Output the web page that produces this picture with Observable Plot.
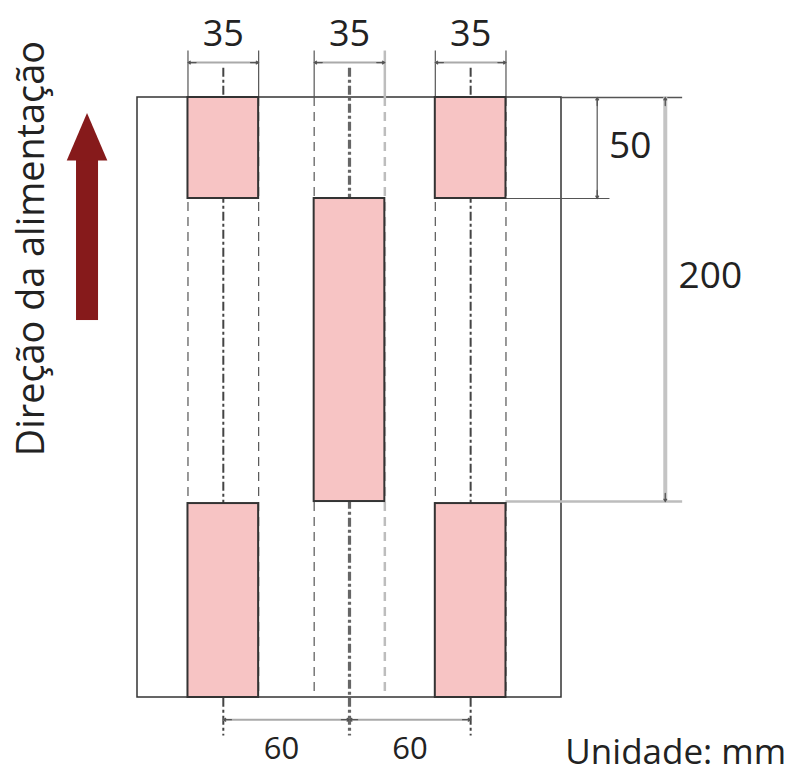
<!DOCTYPE html>
<html>
<head>
<meta charset="utf-8">
<script src="https://cdn.jsdelivr.net/npm/d3@7"></script>
<script src="https://cdn.jsdelivr.net/npm/@observablehq/plot@0.6"></script>
<style>
  html, body { margin: 0; padding: 0; background: #fff; }
  #chart svg { display: block; }
</style>
</head>
<body>
<div id="chart"></div>
<script>
// ---- data (mm) ----
const paperWidth = 210;          // A4 width
const paperHeight = 297;         // A4 height
const columnLeft = [25, 87.5, 147.5];
const columnWidth = 35;
const widthLabels = ["35", "35", "35"];
// patches: column index, top and bottom distance from the leading edge
const patchColumn = [0, 2, 1, 0, 2];
const patchTop = [0, 0, 50, 201, 201];
const patchBottom = [50, 50, 200, 297, 297];
const spacingLabels = ["60", "60"];
const heightDims = [50, 200];
const heightLabels = ["50", "200"];
const directionLabel = "Direção da alimentação";
const unitLabel = "Unidade: mm";

// ---- derived tables ----
const centers = columnLeft.map(l => l + columnWidth / 2);
const edges = columnLeft.flatMap((l, i) => [
  {x: l, col: i, side: "L"},
  {x: l + columnWidth, col: i, side: "R"}
]);
const patches = patchColumn.map((c, i) => ({
  x1: columnLeft[c], x2: columnLeft[c] + columnWidth, y1: patchTop[i], y2: patchBottom[i]
}));
const edgeColor = d => (d.col === 1 && d.side === "R") ? "#bdbdbd" : "#555";
const edgeWidth = d => (d.col === 1 && d.side === "R") ? 2.5 : 1.2;

const dimTopY = -17.3;
const dimBottomY = 308;
const ah = 4; // arrow stub length in mm

const widthDims = columnLeft.map((l, i) => ({a: l, b: l + columnWidth, label: widthLabels[i], c: centers[i]}));
const spacingLabelX = [71.3, 135];
const spacingDims = spacingLabels.map((lab, i) => ({a: centers[i], b: centers[i + 1], label: lab, lx: spacingLabelX[i]}));

const hDimX = [227.7, 261.4];
const hDims = heightDims.map((h, i) => ({x: hDimX[i], a: 0, b: h, label: heightLabels[i]}));

const arrowsH = (dims, y) => dims.flatMap(d => [
  {x1: d.a + ah, x2: d.a, y}, {x1: d.b - ah, x2: d.b, y}
]);
const arrowsV = dims => dims.flatMap(d => [
  {y1: d.a + ah, y2: d.a, x: d.x}, {y1: d.b - ah, y2: d.b, x: d.x}
]);

const font = "'Open Sans', 'Noto Sans', sans-serif";

const plot = Plot.plot({
  width: 802,
  height: 773,
  marginLeft: 137,
  marginRight: 241,
  marginTop: 97,
  marginBottom: 76,
  x: {domain: [0, paperWidth], axis: null},
  y: {domain: [0, paperHeight], reverse: true, axis: null},
  style: {fontFamily: font, background: "white"},
  marks: [
    // paper
    Plot.rect([{x1: 0, x2: paperWidth, y1: 0, y2: paperHeight}], {x1: "x1", x2: "x2", y1: "y1", y2: "y2", fill: "white", stroke: "#333", strokeWidth: 1.5}),
    // leading edge extension
    Plot.ruleY([0], {x1: paperWidth, x2: 270, stroke: "#555", strokeWidth: 1.5}),
    // extension for 50 and 200
    Plot.ruleY([heightDims[0]], {x1: columnLeft[2] + columnWidth, x2: 234, stroke: "#555", strokeWidth: 1.2}),
    Plot.ruleY([heightDims[1]], {x1: columnLeft[2] + columnWidth, x2: 270, stroke: "#bdbdbd", strokeWidth: 2.5}),
    // column edge extension lines (solid above paper)
    Plot.ruleX(edges, {x: "x", y1: -23, y2: 0, stroke: edgeColor, strokeWidth: edgeWidth}),
    // column edges dashed through paper
    Plot.ruleX(edges, {x: "x", y1: 0, y2: paperHeight, stroke: edgeColor, strokeWidth: edgeWidth, strokeDasharray: "9,6"}),
    // center lines dash-dot
    Plot.ruleX(centers, {y1: -14.5, y2: 316, stroke: (d, i) => i === 1 ? "#666" : "#444", strokeWidth: (d, i) => i === 1 ? 3.2 : 2, strokeDasharray: "9,3,3,3"}),
    // patches
    Plot.rect(patches, {x1: "x1", x2: "x2", y1: "y1", y2: "y2", fill: "#f7c4c4", stroke: "#333", strokeWidth: 2}),
    // width dimensions (35)
    Plot.ruleY(widthDims, {x1: "a", x2: "b", y: dimTopY, stroke: "#aaa", strokeWidth: 2}),
    Plot.arrow(arrowsH(widthDims, dimTopY), {x1: "x1", x2: "x2", y1: "y", y2: "y", stroke: "#555", strokeWidth: 1.3, headLength: 7}),
    Plot.text(widthDims, {x: "c", y: -31.2, text: "label", fontSize: 36, fill: "#222"}),
    // spacing dimensions (60)
    Plot.ruleY(spacingDims, {x1: "a", x2: "b", y: dimBottomY, stroke: "#aaa", strokeWidth: 2}),
    Plot.arrow(arrowsH(spacingDims, dimBottomY), {x1: "x1", x2: "x2", y1: "y", y2: "y", stroke: "#555", strokeWidth: 1.3, headLength: 7}),
    Plot.text(spacingDims, {x: "lx", y: 322.3, text: "label", fontSize: 31, fill: "#222"}),
    // height dimensions (50, 200)
    Plot.ruleX(hDims, {x: "x", y1: "a", y2: "b", stroke: (d, i) => i === 0 ? "#777" : "#c4c4c4", strokeWidth: (d, i) => i === 0 ? 1.5 : 4}),
    Plot.arrow(arrowsV(hDims), {x1: "x", x2: "x", y1: "y1", y2: "y2", stroke: "#555", strokeWidth: 1.3, headLength: 7}),
    Plot.text(hDims, {x: (d, i) => i === 0 ? 244 : 283.7, y: (d, i) => i === 0 ? 24 : 88.6, text: "label", fontSize: 37, fill: "#222"}),
    // feed direction arrow
    Plot.rect([{x1: -30.2, x2: -19.3, y1: 31, y2: 110.4}], {x1: "x1", x2: "x2", y1: "y1", y2: "y2", fill: "#861a1b"}),
    Plot.areaX([{y: 7.9, a: -24.75, b: -24.75}, {y: 31.4, a: -34.8, b: -14.7}], {y: "y", x1: "a", x2: "b", fill: "#861a1b"}),
    Plot.text([directionLabel], {x: -52.3, y: 74.8, text: d => d, rotate: -90, fontSize: 37.8, fill: "#222"}),
    // unit
    Plot.text([unitLabel], {x: 211.9, y: 324.6, text: d => d, textAnchor: "start", fontSize: 35, fill: "#222"})
  ]
});
document.getElementById("chart").appendChild(plot);
</script>
</body>
</html>
